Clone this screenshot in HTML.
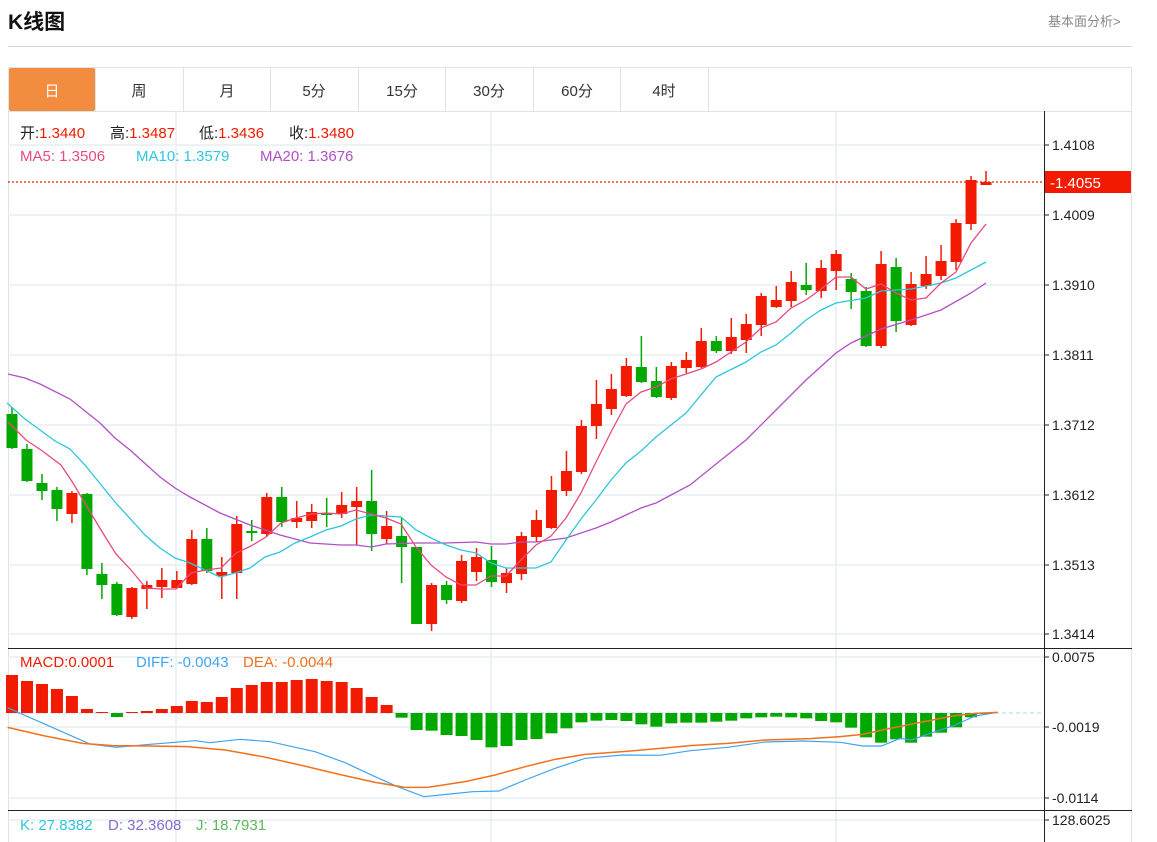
<!DOCTYPE html>
<html><head><meta charset="utf-8">
<style>
body{margin:0;background:#fff;width:1157px;height:842px;overflow:hidden;font-family:"Liberation Sans","Noto Sans CJK SC",sans-serif;}
.t{position:absolute;white-space:nowrap;}
</style></head><body>
<div class="t" style="left:8px;top:6px;font-size:21px;font-weight:bold;color:#111;">K线图</div>
<div class="t" style="left:1048px;top:11px;font-size:13px;color:#888;">基本面分析&gt;</div>
<div style="position:absolute;left:8px;top:46px;width:1124px;height:1px;background:#d4d4d4"></div>
<svg id="s" width="1157" height="842" style="position:absolute;left:0;top:0" xmlns="http://www.w3.org/2000/svg" font-family="Liberation Sans, Noto Sans CJK SC, sans-serif">
<rect x="8.5" y="67.5" width="1123" height="780" fill="none" stroke="#dde3e8"/>
<rect x="9" y="68" width="86" height="43" fill="#f28c3f" rx="2"/>
<g stroke="#dde3e8"><line x1="95.5" y1="68" x2="95.5" y2="111"/><line x1="183.5" y1="68" x2="183.5" y2="111"/><line x1="270.5" y1="68" x2="270.5" y2="111"/><line x1="358.5" y1="68" x2="358.5" y2="111"/><line x1="445.5" y1="68" x2="445.5" y2="111"/><line x1="533.5" y1="68" x2="533.5" y2="111"/><line x1="620.5" y1="68" x2="620.5" y2="111"/><line x1="708.5" y1="68" x2="708.5" y2="111"/><line x1="8" y1="111.5" x2="1132" y2="111.5"/></g>
<g font-size="15" text-anchor="middle" fill="#333"><text x="52" y="96" fill="#fff">日</text><text x="139" y="96">周</text><text x="227" y="96">月</text><text x="314" y="96">5分</text><text x="402" y="96">15分</text><text x="489" y="96">30分</text><text x="577" y="96">60分</text><text x="664" y="96">4时</text></g>
<g id="grid" stroke="#e6edf3" stroke-width="1.5"></g>
<g stroke="#222" stroke-width="1"><line x1="1044.5" y1="111" x2="1044.5" y2="842"/><line x1="8" y1="648.5" x2="1132" y2="648.5"/><line x1="8" y1="810.5" x2="1132" y2="810.5"/></g>
<line x1="8" y1="182" x2="1044" y2="182" stroke="#f21a00" stroke-dasharray="2,2" stroke-width="1.2"/>
<rect x="1045" y="171" width="86" height="22" fill="#f21a00"/>
<text x="1050" y="188" font-size="15" fill="#fff">-1.4055</text>
<g font-size="14" fill="#222" id="lbl"></g>
<g id="main"></g>
<g font-size="15">
<text x="20" y="138" fill="#222">开:<tspan fill="#f21a00">1.3440</tspan></text>
<text x="110" y="138" fill="#222">高:<tspan fill="#f21a00">1.3487</tspan></text>
<text x="199" y="138" fill="#222">低:<tspan fill="#f21a00">1.3436</tspan></text>
<text x="289" y="138" fill="#222">收:<tspan fill="#f21a00">1.3480</tspan></text>
<text x="20" y="161" fill="#e84a7f">MA5: 1.3506</text>
<text x="136" y="161" fill="#2dc6dd">MA10: 1.3579</text>
<text x="260" y="161" fill="#b14fc5">MA20: 1.3676</text>
<text x="20" y="667" fill="#f21a00">MACD:0.0001</text>
<text x="136" y="667" fill="#3fa4f0">DIFF: -0.0043</text>
<text x="243" y="667" fill="#f2711c">DEA: -0.0044</text>
<text x="20" y="830" fill="#2dc6dd">K: 27.8382</text>
<text x="108" y="830" fill="#8a6bd1">D: 32.3608</text>
<text x="196" y="830" fill="#5cb85c">J: 18.7931</text>
</g>
</svg>
<script>
var NS="http://www.w3.org/2000/svg";
function el(p,t,a){var e=document.createElementNS(NS,t);for(var k in a)e.setAttribute(k,a[k]);document.getElementById(p).appendChild(e);return e;}
[145,215,285,355,425,495,565,634,657,727,798,820].forEach(function(y){el('grid','line',{x1:8,y1:y,x2:1044,y2:y});});
[176,491,836].forEach(function(x){el('grid','line',{x1:x,y1:111,x2:x,y2:842});});
var L=[[145,'1.4108'],[215,'1.4009'],[285,'1.3910'],[355,'1.3811'],[425,'1.3712'],[495,'1.3612'],[565,'1.3513'],[634,'1.3414'],[657,'0.0075'],[727,'-0.0019'],[798,'-0.0114'],[820,'128.6025']];
L.forEach(function(l){el('lbl','line',{x1:1044,y1:l[0],x2:1049,y2:l[0],stroke:'#222'});var t=el('lbl','text',{x:1052,y:l[0]+5});t.textContent=l[1];});
var R='#f21a00',G='#00a800';
var C=[[414,448,407,449,G],[449,481,444,482,G],[483,491,474,500,G],[490,509,487,521,G],[514,493,491,523,R],[494,569,493,575,G],[574,585,563,599,G],[584,615,582,616,G],[617,588,587,619,R],[589,585,581,609,R],[587,580,568,598,R],[588,580,571,589,R],[584,539,530,585,R],[539,571,528,573,G],[576,572,557,599,R],[573,524,516,599,R],[531,533,520,541,G],[534,497,493,537,R],[497,522,487,527,G],[522,518,501,528,R],[521,512,504,528,R],[513,514,498,527,G],[514,505,492,518,R],[507,501,487,545,R],[501,534,470,551,G],[539,526,511,544,R],[536,547,517,583,G],[547,624,547,624,G],[624,585,583,631,R],[585,600,581,604,G],[601,561,555,603,R],[572,557,548,581,R],[560,582,546,587,G],[583,573,568,593,R],[574,536,532,580,R],[537,520,510,542,R],[528,490,476,529,R],[491,471,451,496,R],[472,426,420,474,R],[426,404,380,439,R],[409,389,374,415,R],[396,366,358,397,R],[367,382,336,383,G],[381,397,367,398,G],[398,366,362,400,R],[368,360,352,373,R],[367,341,328,368,R],[341,351,336,353,G],[351,337,318,354,R],[340,324,314,353,R],[325,296,293,336,R],[307,300,286,308,R],[301,282,271,307,R],[285,290,263,295,G],[291,268,260,298,R],[271,254,250,290,R],[279,292,273,309,G],[291,346,287,347,G],[346,264,251,348,R],[267,321,258,332,G],[325,284,272,326,R],[286,274,256,289,R],[276,261,245,280,R],[262,223,219,270,R],[224,180,176,230,R],[185,182,171,185,R]];
function X(i){return 12+i*14.985;}
C.forEach(function(c,i){var x=X(i);el('main','line',{x1:x,y1:c[2],x2:x,y2:c[3],stroke:c[4],'stroke-width':1.5});var t=Math.min(c[0],c[1]),h=Math.max(Math.abs(c[0]-c[1]),2);el('main','rect',{x:x-5.5,y:t,width:11,height:h,fill:c[4]});});
function pl(pts,col,w){el('main','polyline',{points:pts.map(function(p){return p.join(',')}).join(' '),fill:'none',stroke:col,'stroke-width':w||1.3});}
pl([[8,374],[25,378],[40,384],[70,399],[100,423],[115,438],[130,450],[160,477],[175,488],[190,497],[220,513],[250,525],[280,535],[310,543],[341,545],[356,545],[371,547],[386,544],[416,543],[446,543],[476,542],[491,544],[506,544],[521,542],[536,542],[551,540],[566,538],[581,533],[596,528],[611,522],[626,515],[641,508],[656,503],[690,485],[721,460],[746,440],[776,410],[806,380],[836,353],[851,343],[881,329],[911,320],[941,310],[971,293],[986,283]],'#b14fc5');
pl([[7,403],[25,419],[55,441],[70,449],[85,465],[115,502],[145,535],[160,548],[175,558],[190,563],[205,570],[220,577],[235,573],[250,568],[265,557],[280,552],[295,543],[310,537],[326,530],[341,526],[356,519],[371,515],[386,516],[401,517],[416,530],[431,538],[446,545],[461,550],[476,553],[491,563],[506,568],[521,568],[536,568],[551,562],[566,540],[581,519],[596,500],[611,480],[626,463],[641,451],[656,437],[686,413],[716,377],[746,362],[761,352],[776,345],[791,333],[806,320],[821,310],[836,303],[866,298],[881,291],[911,289],[941,283],[956,278],[986,262]],'#2dc6dd');
pl([[8,422],[26,440],[41,450],[61,465],[73,483],[86,505],[101,530],[116,554],[131,570],[146,588],[161,589],[176,589],[191,573],[206,570],[221,568],[236,553],[251,546],[266,537],[281,523],[296,518],[311,514],[326,513],[341,514],[356,510],[371,514],[386,518],[401,524],[416,547],[431,565],[446,577],[461,585],[476,585],[491,576],[506,576],[521,560],[536,545],[551,536],[566,518],[581,493],[596,462],[611,432],[626,404],[641,392],[656,387],[671,379],[686,374],[701,369],[716,362],[731,352],[746,342],[761,328],[776,322],[791,308],[806,300],[821,289],[836,277],[851,277],[866,289],[881,284],[896,293],[911,300],[926,298],[941,283],[956,272],[971,243],[986,224]],'#e84a7f');
el('main','line',{x1:8,y1:713,x2:1044,y2:713,stroke:'#a8d8ea','stroke-dasharray':'4,3'});
var RT=[675,681,684,689,696,709,712,-717,712,711,709,706,701,702,697,688,685,682,682,680,679,681,682,688,697,705];
RT.forEach(function(y,i){var x=X(i);if(y<0){el('main','rect',{x:x-6,y:713,width:12,height:-y-713,fill:G});}else{el('main','rect',{x:x-6,y:y,width:12,height:713-y,fill:R});}});
var GB=[233,270,272,285,288,300,322,318,300,297,280,265,247,242,240,243,253,260,250,248,248,245,242,235,232,230,232,235,243,247,263,292,308,298,308,290,278,262,232,220];
GB.forEach(function(p,j){var x=X(26+j),y=640+p/3;el('main','rect',{x:x-6,y:713,width:12,height:Math.max(y-713,1),fill:G});});
function cv(a){return a.map(function(p){return [p[0]/1.333,640+p[1]/3];});}
pl(cv([[10,203],[120,312],[155,322],[200,313],[260,302],[280,308],[320,298],[360,305],[420,335],[460,368],[500,410],[530,440],[565,470],[600,462],[630,455],[665,453],[700,420],[740,385],[780,355],[830,345],[880,346],[920,332],[970,322],[1020,306],[1070,303],[1120,307],[1150,318],[1175,318],[1200,295],[1215,300],[1240,280],[1270,258],[1300,228],[1330,217]]),'#3fa4f0',1.2);
pl(cv([[10,262],[60,288],[110,310],[150,317],[200,318],[250,320],[300,330],[350,350],[400,375],[450,402],[500,427],[540,442],[570,442],[620,425],[660,405],[700,380],[740,358],[780,343],[830,335],[880,325],[920,317],[970,310],[1020,300],[1080,296],[1120,290],[1150,283],[1180,268],[1220,250],[1270,228],[1300,220],[1330,217]]),'#f2711c',1.5);
</script>
</body></html>
